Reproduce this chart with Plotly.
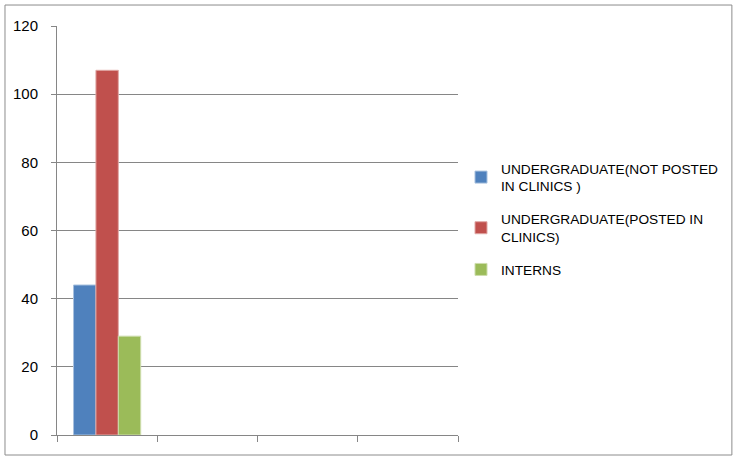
import plotly.graph_objects as go

# category slots on the x axis (only the first one holds data)
cat_pos = [0, 1, 2, 3]
series_names = [
    "UNDERGRADUATE(NOT POSTED<br>IN CLINICS )",
    "UNDERGRADUATE(POSTED IN<br>CLINICS)",
    "INTERNS",
]
not_posted = [44, None, None, None]
posted = [107, None, None, None]
interns = [29, None, None, None]
y_ticks = [0, 20, 40, 60, 80, 100, 120]

colors = ["#4F81BD", "#C0504D", "#9BBB59"]
edges = ["#A7C0DE", "#E0A8A6", "#CDDDAC"]

fig = go.Figure()
for i, (name, vals, c, e) in enumerate(zip(series_names, [not_posted, posted, interns], colors, edges)):
    fig.add_trace(go.Bar(x=cat_pos, y=vals, name=name, legendgroup=f"g{i}",
                         marker=dict(color=c, line=dict(color=e, width=1))))

fig.update_layout(
    width=737, height=460,
    margin=dict(l=57, r=279, t=26, b=25, autoexpand=False),
    paper_bgcolor="white", plot_bgcolor="white",
    barmode="group", bargap=0.33, bargroupgap=0,
    font=dict(family="Liberation Sans", size=14, color="black"),
    showlegend=True,
    legend=dict(x=1.0075, xanchor="left", y=0.69, yanchor="top",
                bgcolor="rgba(0,0,0,0)",
                font=dict(size=13.7), itemwidth=30, tracegroupgap=12),
    shapes=[dict(type="rect", xref="paper", yref="paper",
                 x0=-0.1297, x1=1.683, y0=-0.0489, y1=1.0513,
                 line=dict(color="#8c8c8c", width=1))],
)
fig.update_xaxes(range=[-0.5, 3.5], tickvals=[-0.5, 0.5, 1.5, 2.5, 3.5],
                 showticklabels=False, ticks="outside", ticklen=6,
                 tickcolor="#868686", showline=True, linecolor="#868686",
                 showgrid=False, zeroline=False)
fig.update_yaxes(range=[0, 120], tickvals=y_ticks, ticks="outside", ticklen=5,
                 tickcolor="#868686", showline=True, linecolor="#868686",
                 showgrid=True, gridcolor="#868686", zeroline=False,
                 ticklabelstandoff=10, tickfont=dict(size=15))

# drop the default page margin so the figure sits at the window's corner
fig.write_html("out.html", config={"displayModeBar": False},
               post_script="document.body.style.margin='0px';")
